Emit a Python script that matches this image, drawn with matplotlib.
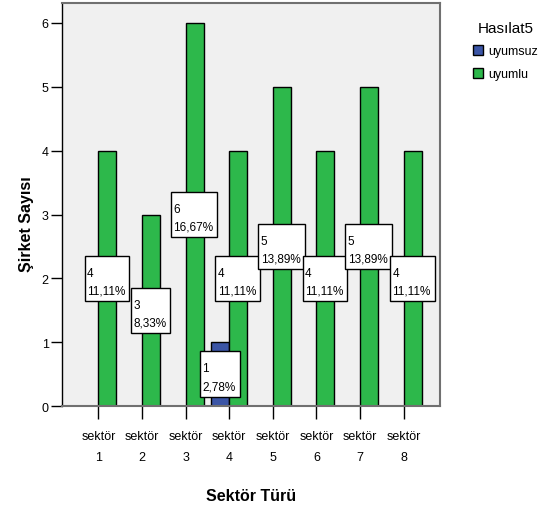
import numpy as np
import matplotlib
matplotlib.use("Agg")
import matplotlib.pyplot as plt
from matplotlib.patches import Patch, Rectangle
from matplotlib.transforms import offset_copy

plt.rcParams['font.family'] = ['Liberation Sans', 'DejaVu Sans']

# data
sectors = ['sektör\n1', 'sektör\n2', 'sektör\n3', 'sektör\n4',
           'sektör\n5', 'sektör\n6', 'sektör\n7', 'sektör\n8']
uyumsuz = [0, 0, 0, 1, 0, 0, 0, 0]
uyumlu = [4, 3, 6, 4, 5, 4, 5, 4]
groups = ['uyumsuz', 'uyumlu']
colors = ['#3B55A6', '#2DB84B']

total = sum(uyumsuz) + sum(uyumlu)
x = np.arange(1, len(sectors) + 1)
w = 0.414

fig = plt.figure(figsize=(5.43, 5.06), dpi=100)
ax = fig.add_axes([62 / 543, 1 - 407.3 / 506, (440 - 62) / 543, (407.3 - 4) / 506])
ax.set_facecolor('#F0F0F0')
ax.set_xlim(1 - 0.834, 8 + 0.834)
ax.set_ylim(0, 6.31)

labels = []
shift = offset_copy(ax.transData, fig=fig, x=-1.2, y=-3, units='dots')
for vals, off, col in [(uyumsuz, -w / 2, colors[0]), (uyumlu, w / 2, colors[1])]:
    ax.bar(x + off, vals, width=w, color=col, edgecolor='black', linewidth=1, zorder=2)
    for xi, v in zip(x, vals):
        if v == 0:
            continue
        pct = f"{v / total * 100:.2f}%".replace('.', ',')
        t = ax.text(xi + off, v / 2, f"{v}\n{pct}", ha='center', va='center',
                    multialignment='left', fontsize=8.5, linespacing=1.65, zorder=6,
                    transform=shift)
        labels.append(t)

ax.set_xticks(x)
ax.set_xticklabels(sectors, fontsize=9, linespacing=1.95)
ax.set_yticks(range(0, 7))
ax.tick_params(axis='x', length=9.4, width=1, pad=8, color='black')
ax.tick_params(axis='y', length=8, width=1, pad=1.5, labelsize=9)

for s in ['top', 'right', 'bottom']:
    ax.spines[s].set_color('#707070')
    ax.spines[s].set_linewidth(1.5)
ax.spines['left'].set_color('black')
ax.spines['left'].set_linewidth(1)

ax.set_xlabel('Sektör Türü', fontsize=11.5, fontweight='bold', labelpad=18)
ax.set_ylabel('Şirket Sayısı', fontsize=11.5, fontweight='bold')
ax.yaxis.set_label_coords(-0.074, 0.4545)

handles = [Patch(facecolor=c, edgecolor='black', label=g) for c, g in zip(colors, groups)]
fig.legend(handles=handles, title='Hasılat5', loc='upper left',
           bbox_to_anchor=(473 / 543, 1 - 22 / 506), frameon=False,
           fontsize=9, title_fontsize=11, handlelength=0.8, handleheight=0.9,
           handletextpad=0.4, labelspacing=0.8, borderpad=0, borderaxespad=0)

# white label boxes sized around the text
fig.canvas.draw()
r = fig.canvas.get_renderer()
inv = ax.transData.inverted()
for t in labels:
    bb = t.get_window_extent(r)
    (x0, y0), (x1, y1) = inv.transform([(bb.x0 - 2.5, bb.y0 - 5), (bb.x1 + 4, bb.y1 + 11)])
    ax.add_patch(Rectangle((x0, y0), x1 - x0, y1 - y0, facecolor='white',
                           edgecolor='black', linewidth=1, zorder=5))

fig.savefig('out.png', dpi=100)
